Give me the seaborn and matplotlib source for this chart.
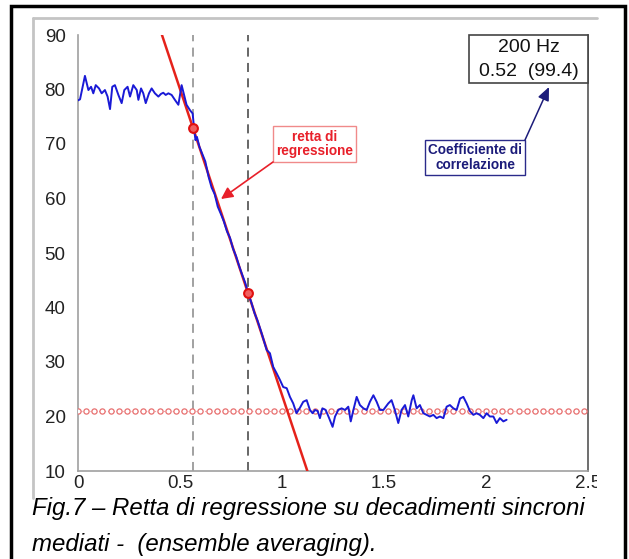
import numpy as np
import pandas as pd
import matplotlib
matplotlib.use("Agg")
import matplotlib.pyplot as plt
from matplotlib.patches import Rectangle, FancyArrowPatch
from matplotlib.lines import Line2D
from matplotlib.transforms import Bbox, TransformedBbox
import seaborn as sns

# --- data -------------------------------------------------------------------
# ensemble-averaged decay (time in s, level in dB)
decay_t = [0.000, 0.010, 0.034, 0.051, 0.064, 0.075, 0.087, 0.103, 0.116, 0.132,
           0.145, 0.157, 0.168, 0.181, 0.198, 0.214, 0.227, 0.243, 0.255, 0.271,
           0.288, 0.296, 0.309, 0.320, 0.332, 0.348, 0.361, 0.377, 0.394, 0.407,
           0.418, 0.430, 0.443, 0.459, 0.475, 0.492, 0.508, 0.532, 0.549, 0.562,
           0.570, 0.576, 0.583, 0.595, 0.608, 0.624, 0.640, 0.655, 0.670, 0.685,
           0.700, 0.715, 0.730, 0.745, 0.760, 0.775, 0.790, 0.805, 0.820, 0.835,
           0.850, 0.865, 0.880, 0.900, 0.925, 0.941, 0.957, 0.974, 0.990, 1.006,
           1.023, 1.039, 1.055, 1.063, 1.071, 1.088, 1.104, 1.121, 1.137, 1.150,
           1.162, 1.175, 1.186, 1.198, 1.214, 1.231, 1.248, 1.260, 1.276, 1.292,
           1.309, 1.325, 1.337, 1.350, 1.366, 1.382, 1.399, 1.415, 1.431, 1.448,
           1.464, 1.480, 1.497, 1.521, 1.537, 1.553, 1.570, 1.586, 1.603, 1.619,
           1.636, 1.644, 1.660, 1.676, 1.693, 1.709, 1.725, 1.742, 1.758, 1.774,
           1.791, 1.807, 1.823, 1.840, 1.856, 1.873, 1.889, 1.905, 1.921, 1.938,
           1.954, 1.970, 1.987, 2.003, 2.019, 2.036, 2.052, 2.068, 2.085, 2.101]
decay_db = [78.0, 78.2, 82.5, 79.9, 80.5, 79.3, 80.8, 80.2, 79.3, 79.9,
            78.7, 76.4, 80.5, 80.8, 79.0, 77.5, 79.9, 80.5, 78.7, 80.8,
            79.9, 78.1, 80.2, 79.3, 77.5, 79.3, 80.2, 79.3, 78.7, 79.2,
            79.4, 79.0, 79.3, 79.0, 78.1, 77.2, 80.8, 77.2, 76.2, 75.6,
            72.5, 70.7, 71.3, 69.5, 68.3, 66.8, 64.0, 62.0, 60.8, 58.5,
            57.2, 55.8, 54.0, 52.8, 50.8, 49.4, 47.6, 46.0, 44.5, 42.5,
            40.9, 39.0, 37.6, 35.3, 32.2, 31.6, 29.1, 27.9, 26.7, 25.4,
            25.2, 23.6, 22.4, 21.5, 20.6, 21.6, 22.7, 23.0, 21.2, 20.6,
            21.2, 21.0, 19.7, 21.5, 21.2, 19.7, 18.1, 20.0, 21.2, 21.5,
            21.2, 21.8, 19.1, 21.2, 23.6, 22.1, 21.5, 21.2, 22.7, 23.9,
            22.7, 21.2, 21.2, 22.4, 23.0, 21.2, 18.8, 21.2, 22.1, 20.0,
            23.0, 23.9, 21.5, 22.1, 20.6, 20.3, 20.0, 20.3, 19.7, 20.0,
            19.7, 21.8, 22.1, 21.5, 21.2, 23.3, 23.6, 22.4, 21.0, 20.3,
            20.6, 20.3, 19.7, 20.6, 20.0, 20.0, 18.8, 19.7, 19.1, 19.4]

# regression window end points (s, dB)
reg_t = [0.564, 0.833]
reg_db = [72.9, 42.7]

# background noise level (dB)
noise_db = 21.0

x_ticks = [0, 0.5, 1, 1.5, 2, 2.5]
x_tick_labels = ["0", "0.5", "1", "1.5", "2", "2.5"]
y_ticks = [10, 20, 30, 40, 50, 60, 70, 80, 90]

# --- figure -----------------------------------------------------------------
sns.set_style("white")
plt.rcParams["font.family"] = ["Liberation Sans", "DejaVu Sans"]

W, H = 629, 559
fig = plt.figure(figsize=(W / 100, H / 100), dpi=100)


def fx(px):
    return px / W


def fy(py):
    return 1 - py / H


ax = fig.add_axes([fx(78), fy(471), fx(588) - fx(78), fy(35) - fy(471)])

decay = pd.DataFrame({"t": decay_t, "db": decay_db})
sns.lineplot(data=decay, x="t", y="db", ax=ax, color="#1a1ad6", lw=1.4,
             zorder=6, sort=False)

# regression line through the window end points
slope, icpt = np.polyfit(reg_t, reg_db, 1)
line_t = np.array([0.0, 2.5])
sns.lineplot(x=line_t, y=slope * line_t + icpt, ax=ax, color="#e5221b",
             lw=1.8, zorder=5)
sns.scatterplot(x=reg_t, y=reg_db, ax=ax, s=40, marker="o",
                facecolor="#f06060", edgecolor="#e01010", linewidth=1.5,
                zorder=7)

# noise floor
floor_t = np.arange(0, 2.501, 0.04)
ax.plot(floor_t, np.full_like(floor_t, noise_db), ls=":", lw=0.8,
        color="#f0a0a0", zorder=3)
sns.scatterplot(x=floor_t, y=np.full_like(floor_t, noise_db), ax=ax, s=14,
                marker="o", facecolor="white", edgecolor="#e87070",
                linewidth=0.9, zorder=3)

# regression window limits
ax.axvline(reg_t[0], color="#9a9a9a", ls=(0, (5, 3.5)), lw=1.3, zorder=2)
ax.axvline(reg_t[1], color="#5a5a5a", ls=(0, (5, 3.5)), lw=1.3, zorder=2)

ax.set_xlim(0, 2.5)
ax.set_ylim(10, 90)
ax.set_xticks(x_ticks)
ax.set_xticklabels(x_tick_labels)
ax.set_yticks(y_ticks)
ax.set_xlabel("")
ax.set_ylabel("")
ax.tick_params(axis="both", labelsize=13.5, labelcolor="#222222", length=3,
               width=1, direction="out", color="#999999")
ax.tick_params(axis="y", pad=6)
ax.tick_params(axis="x", pad=0)
for s in ("left", "bottom"):
    ax.spines[s].set_color("#a0a0a0")
    ax.spines[s].set_linewidth(1.2)
ax.spines["right"].set_color("#555555")
ax.spines["right"].set_linewidth(1.2)
ax.spines["top"].set_visible(False)

# the chart area ends at its right edge, cutting the last tick label
chart_clip = TransformedBbox(Bbox([[0, 0], [fx(597), 1]]), fig.transFigure)
for lab in ax.get_xticklabels():
    lab.set_clip_on(True)
    lab.set_clip_box(chart_clip)

# chart area frame (top and left edges) and outer border
fig.add_artist(Line2D([fx(33), fx(597)], [fy(18), fy(18)], color="#c4c4c4",
                      lw=2, transform=fig.transFigure))
fig.add_artist(Line2D([fx(33), fx(33)], [fy(18), fy(498)], color="#c4c4c4",
                      lw=2, transform=fig.transFigure))
fig.add_artist(Rectangle((fx(11), fy(565)), fx(625) - fx(11), fy(6) - fy(565),
                         fill=False, ec="black", lw=2.5,
                         transform=fig.transFigure))

# result box
fig.add_artist(Rectangle((fx(469), fy(83)), fx(588) - fx(469), fy(35) - fy(83),
                         facecolor="white", ec="#444444", lw=1.2,
                         transform=fig.transFigure, zorder=10))
fig.text(fx(529), fy(47), "200 Hz", ha="center", va="center", fontsize=14,
         color="#111111", zorder=11)
fig.text(fx(529), fy(72), "0.52  (99.4)", ha="center", va="center",
         fontsize=14, color="#111111", zorder=11)

# callouts
fig.text(fx(314.5), fy(144), "retta di\nregressione", ha="center", va="center",
         fontsize=9.8, fontweight="bold", color="#e8202a",
         multialignment="center", linespacing=1.05,
         bbox=dict(boxstyle="square,pad=0.25", fc="white", ec="#f08a8a",
                   lw=1))
fig.add_artist(FancyArrowPatch(
    (fx(273), fy(162)), (fx(221), fy(199)), transform=fig.transFigure,
    arrowstyle="-|>,head_length=7,head_width=3.5", color="#e8202a", lw=1.2,
    shrinkA=0, shrinkB=0, zorder=12))

fig.text(fx(475), fy(157.5), "Coefficiente di\ncorrelazione", ha="center",
         va="center", fontsize=9.8, fontweight="bold", color="#1c1c7a",
         multialignment="center", linespacing=1.1,
         bbox=dict(boxstyle="square,pad=0.2", fc="white", ec="#2a2a8a", lw=1))
fig.add_artist(FancyArrowPatch(
    (fx(525), fy(140)), (fx(549), fy(87)), transform=fig.transFigure,
    arrowstyle="-|>,head_length=8,head_width=3.5", color="#1c1c7a", lw=1.1,
    shrinkA=0, shrinkB=0, zorder=12))

# caption
fig.text(fx(32), fy(509), "Fig.7 – Retta di regressione su decadimenti sincroni",
         ha="left", va="center", fontsize=17.3, style="italic", color="black")
fig.text(fx(32), fy(544), "mediati -  (ensemble averaging).",
         ha="left", va="center", fontsize=17.3, style="italic", color="black")

fig.savefig("out.png", dpi=100)
